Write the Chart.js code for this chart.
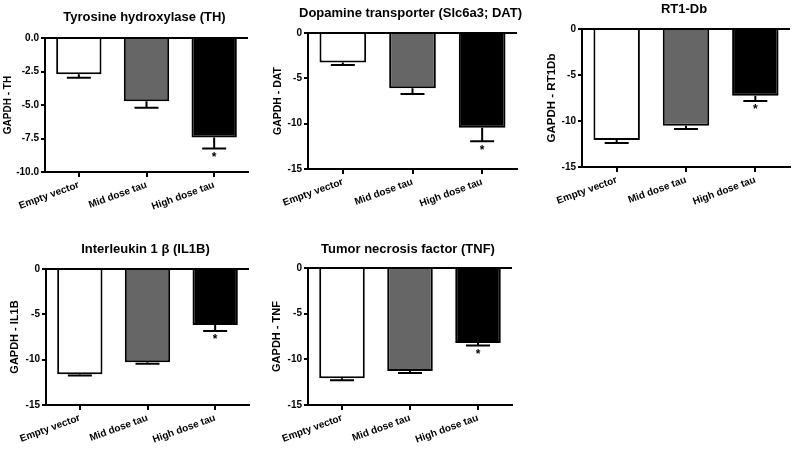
<!DOCTYPE html>
<html>
<head>
<meta charset="utf-8">
<script src="https://cdn.jsdelivr.net/npm/chart.js@4.4.0/dist/chart.umd.min.js"></script>
<style>
  body { margin: 0; background: #fff; }
  #wrap { position: relative; width: 800px; height: 450px; }
  #wrap canvas { position: absolute; }
</style>
</head>
<body>
<div id="wrap"></div>
<script>
const groups = ['Empty vector', 'Mid dose tau', 'High dose tau'];
const barColors = ['#ffffff', '#666666', '#000000'];

// means and SEM (drawn downwards only)
const thMeans = [-2.7, -4.72, -7.43];
const thErrors = [0.26, 0.48, 0.82];
const datMeans = [-3.26, -6.08, -10.45];
const datErrors = [0.26, 0.66, 1.5];
const rt1dbMeans = [-12.07, -10.51, -7.25];
const rt1dbErrors = [0.32, 0.36, 0.58];
const il1bMeans = [-11.61, -10.29, -6.17];
const il1bErrors = [0.15, 0.15, 0.67];
const tnfMeans = [-12.07, -11.27, -8.2];
const tnfErrors = [0.22, 0.22, 0.29];
const stars = ['', '', '*'];

const thTicks = [0, -2.5, -5, -7.5, -10];
const geneTicks = [0, -5, -10, -15];

const FONT = '"Liberation Sans", Arial, sans-serif';

// box = canvas left, top, width, height; area = chart area left, top, right, bottom (canvas coords)
const panels = [
  { title: 'Tyrosine hydroxylase (TH)', yTitle: 'GAPDH - TH', means: thMeans, errors: thErrors, ticks: thTicks, decimals: 1,
    box: [0, 0, 270, 225], area: [45, 38, 248, 172], yTitleX: 8, yTitleSize: 10, titleY: 17 },
  { title: 'Dopamine transporter (Slc6a3; DAT)', yTitle: 'GAPDH - DAT', means: datMeans, errors: datErrors, ticks: geneTicks, decimals: 0,
    box: [270, 0, 270, 225], area: [38, 33, 247, 169], yTitleX: 8, yTitleSize: 10.5, titleY: 13 },
  { title: 'RT1-Db', yTitle: 'GAPDH - RT1Db', means: rt1dbMeans, errors: rt1dbErrors, ticks: geneTicks, decimals: 0,
    box: [540, 0, 260, 225], area: [42, 29, 250, 167], yTitleX: 12, yTitleSize: 11.5, titleY: 9 },
  { title: 'Interleukin 1 \u03b2 (IL1B)', yTitle: 'GAPDH - IL1B', means: il1bMeans, errors: il1bErrors, ticks: geneTicks, decimals: 0,
    box: [0, 225, 270, 225], area: [46, 44, 249, 180], yTitleX: 15, yTitleSize: 11, titleY: 24 },
  { title: 'Tumor necrosis factor (TNF)', yTitle: 'GAPDH - TNF', means: tnfMeans, errors: tnfErrors, ticks: geneTicks, decimals: 0,
    box: [270, 225, 270, 225], area: [38, 43, 242, 180], yTitleX: 7, yTitleSize: 11, titleY: 24 }
];

const errorBars = {
  id: 'errorBars',
  afterDatasetsDraw(chart, args, opts) {
    const { ctx } = chart;
    const y = chart.scales.y;
    const values = chart.data.datasets[0].data;
    chart.getDatasetMeta(0).data.forEach((bar, i) => {
      const yStart = y.getPixelForValue(values[i]);
      const yEnd = y.getPixelForValue(values[i] - opts.errors[i]);
      ctx.save();
      ctx.strokeStyle = '#000';
      ctx.lineWidth = 2;
      ctx.beginPath();
      ctx.moveTo(bar.x, yStart);
      ctx.lineTo(bar.x, yEnd);
      ctx.moveTo(bar.x - 12, yEnd);
      ctx.lineTo(bar.x + 12, yEnd);
      ctx.stroke();
      if (opts.stars[i]) {
        ctx.fillStyle = '#000';
        ctx.font = 'bold 12px ' + FONT;
        ctx.textAlign = 'center';
        ctx.textBaseline = 'top';
        ctx.fillText(opts.stars[i], bar.x, yEnd + 3);
      }
      ctx.restore();
    });
  }
};

const panelTitle = {
  id: 'panelTitle',
  afterDraw(chart, args, opts) {
    const { ctx, chartArea } = chart;
    ctx.save();
    ctx.fillStyle = '#000';
    ctx.font = 'bold 13px ' + FONT;
    ctx.textAlign = 'center';
    ctx.textBaseline = 'middle';
    ctx.fillText(opts.text, (chartArea.left + chartArea.right) / 2 - 2, opts.y);
    ctx.restore();
  }
};

const wrap = document.getElementById('wrap');

panels.forEach(p => {
  const [bx, by, bw, bh] = p.box;
  const [aL, aT, aR, aB] = p.area;
  const canvas = document.createElement('canvas');
  canvas.width = bw;
  canvas.height = bh;
  canvas.style.left = bx + 'px';
  canvas.style.top = by + 'px';
  wrap.appendChild(canvas);

  const padLeft = p.yTitleX - p.yTitleSize * 1.2 / 2;

  new Chart(canvas, {
    type: 'bar',
    data: {
      labels: groups,
      datasets: [{
        data: p.means,
        backgroundColor: barColors,
        borderColor: '#000',
        borderWidth: 2,
        barPercentage: 0.67,
        categoryPercentage: 1
      }]
    },
    options: {
      responsive: false,
      animation: false,
      layout: { padding: { left: padLeft, top: aT, right: bw - aR, bottom: 0 } },
      plugins: {
        legend: { display: false },
        tooltip: { enabled: false },
        errorBars: { errors: p.errors, stars: stars },
        panelTitle: { text: p.title, y: p.titleY }
      },
      scales: {
        x: {
          grid: { offset: false, drawOnChartArea: false, color: '#000', lineWidth: 2, tickLength: 5 },
          border: { color: '#000', width: 2 },
          ticks: {
            color: '#000',
            font: { family: FONT, size: 10, weight: 'bold' },
            minRotation: 20,
            maxRotation: 20,
            padding: 2
          },
          afterFit: s => { s.height = bh - aB; }
        },
        y: {
          min: Math.min(...p.ticks),
          max: Math.max(...p.ticks),
          afterBuildTicks: s => { s.ticks = p.ticks.map(v => ({ value: v })); },
          grid: {
            color: c => (c.tick && c.tick.value === 0 ? '#000' : 'rgba(0,0,0,0)'),
            tickColor: '#000',
            lineWidth: 2,
            tickLength: 4
          },
          border: { color: '#000', width: 2 },
          ticks: {
            color: '#000',
            font: { family: FONT, size: 10, weight: 'bold' },
            padding: 2,
            callback: v => v.toFixed(p.decimals)
          },
          title: {
            display: true,
            text: p.yTitle,
            color: '#000',
            font: { family: FONT, size: p.yTitleSize, weight: 'bold' },
            padding: 0
          },
          afterFit: s => { s.width = aL - padLeft; }
        }
      }
    },
    plugins: [errorBars, panelTitle]
  });
});
</script>
</body>
</html>
